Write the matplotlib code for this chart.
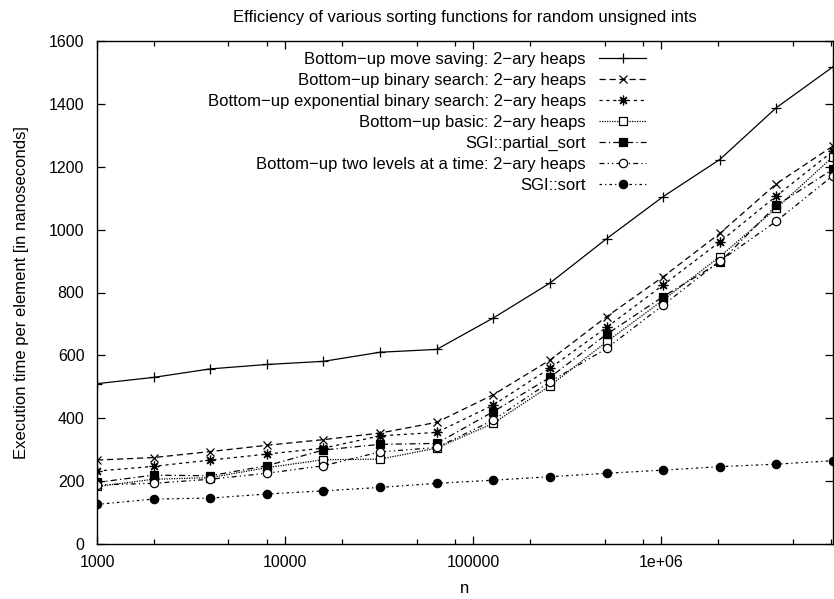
import matplotlib
matplotlib.use('Agg')
import matplotlib.pyplot as plt
from matplotlib.ticker import LogLocator, FixedLocator, FixedFormatter, NullFormatter

plt.rcParams['font.family'] = ['Liberation Sans', 'DejaVu Sans']

n = [1000, 2000, 4000, 8000, 16000, 32000, 64000, 128000,
     256000, 512000, 1024000, 2048000, 4096000, 8192000]

move_saving = [510, 530, 557, 571, 581, 610, 619, 719, 830, 971, 1105, 1223, 1388, 1518]
binary_search = [267, 275, 294, 314, 332, 353, 387, 475, 585, 723, 850, 988, 1146, 1266]
exp_binary = [232, 247, 267, 286, 305, 344, 355, 442, 559, 689, 824, 961, 1107, 1250]
basic = [183, 206, 211, 243, 268, 270, 305, 384, 503, 643, 776, 914, 1068, 1232]
partial_sort = [196, 219, 217, 249, 299, 317, 320, 421, 530, 667, 787, 896, 1077, 1192]
two_levels = [188, 193, 206, 225, 249, 293, 307, 394, 516, 622, 760, 900, 1027, 1172]
sgi_sort = [126, 143, 146, 159, 169, 180, 193, 203, 214, 225, 235, 246, 254, 265]

labels = ['Bottom\u2212up move saving: 2\u2212ary heaps',
          'Bottom\u2212up binary search: 2\u2212ary heaps',
          'Bottom\u2212up exponential binary search: 2\u2212ary heaps',
          'Bottom\u2212up basic: 2\u2212ary heaps',
          'SGI::partial_sort',
          'Bottom\u2212up two levels at a time: 2\u2212ary heaps',
          'SGI::sort']

xtick_vals = [1000, 10000, 100000, 1000000]
xtick_labels = ['1000', '10000', '100000', '1e+06']

fig = plt.figure(figsize=(8.34, 5.99), dpi=100)
ax = fig.add_axes([97 / 834, 55 / 599, 736 / 834, 503 / 599])

lw = 0.9
ms = 6
ax.plot(n, move_saving, color='black', lw=lw, linestyle='-', marker='+', ms=ms + 1, mew=lw, label=labels[0])
ax.plot(n, binary_search, color='black', lw=lw, linestyle=(0, (5, 3)), marker='x', ms=ms, mew=lw, label=labels[1])
ax.plot(n, exp_binary, color='black', lw=lw, linestyle=(0, (2.5, 3)), marker=(8, 2, 0), ms=ms + 1, mew=lw, label=labels[2])
ax.plot(n, basic, color='black', lw=lw, linestyle=(0, (1, 1)), marker='s', mfc='white', ms=ms, mew=lw, label=labels[3])
ax.plot(n, partial_sort, color='black', lw=lw, linestyle=(0, (5, 2.5, 1, 2.5)), marker='s', ms=ms, mew=lw, label=labels[4])
ax.plot(n, two_levels, color='black', lw=lw, linestyle=(0, (4, 2.5, 1, 2.5, 1, 2.5)), marker='o', mfc='white', ms=ms, mew=lw, label=labels[5])
ax.plot(n, sgi_sort, color='black', lw=lw, linestyle=(0, (2, 2.5, 1, 2.5)), marker='o', ms=ms, mew=lw, label=labels[6])

ax.set_xscale('log')
ax.set_xlim(1000, 8192000)
ax.set_ylim(0, 1600)
ax.xaxis.set_major_locator(FixedLocator(xtick_vals))
ax.xaxis.set_major_formatter(FixedFormatter(xtick_labels))
ax.xaxis.set_minor_locator(LogLocator(base=10, subs=(2, 5, 8)))
ax.xaxis.set_minor_formatter(NullFormatter())
ax.set_yticks(range(0, 1601, 200))

ax.tick_params(which='both', direction='in', top=True, right=True, labelsize=11.5, width=0.9)
ax.tick_params(which='major', length=6)
ax.tick_params(axis='x', which='major', pad=8)
ax.tick_params(axis='y', which='major', pad=9)
ax.tick_params(which='minor', length=3.5)
for side in ax.spines.values():
    side.set_linewidth(1.0)

ax.set_title('Efficiency of various sorting functions for random unsigned ints', fontsize=12, pad=14)
ax.set_xlabel('n', fontsize=12, labelpad=8)
ax.set_ylabel('Execution time per element [in nanoseconds]', fontsize=12, labelpad=14)

leg = ax.legend(loc='upper right', bbox_to_anchor=(646 / 834, 1 - 52 / 599),
                bbox_transform=fig.transFigure, frameon=False, markerfirst=False,
                fontsize=12, handlelength=2.8, handletextpad=0.8, labelspacing=0.36,
                borderpad=0, borderaxespad=0)
for t in leg.get_texts():
    t.set_ha('right')

fig.savefig('out.png', dpi=100)
